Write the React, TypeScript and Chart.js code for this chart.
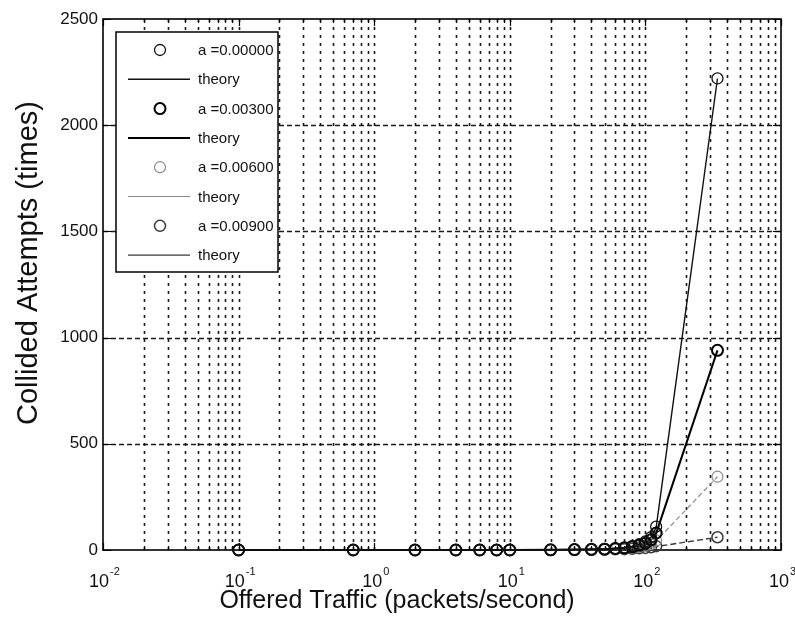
import React, { useEffect, useRef } from "react";
import { Chart, registerables } from "chart.js";

Chart.register(...registerables);

// ---- data ----
const offeredTraffic = [0.1, 0.7, 2, 4, 6, 8, 10, 20, 30, 40, 50, 60, 70, 80, 90, 100, 110, 120, 340];

const simA0 = [0, 0, 0, 0, 0, 0, 0, 1, 2, 3, 5, 8, 12, 18, 27, 40, 60, 110, 2220];
const simA3 = [0, 0, 0, 0, 0, 0, 0, 1, 2, 3, 4, 7, 10, 15, 22, 32, 48, 80, 940];
const simA6 = [0, 0, 0, 0, 0, 0, 0, 0, 1, 2, 3, 5, 7, 10, 14, 20, 28, 45, 345];
const simA9 = [0, 0, 0, 0, 0, 0, 0, 0, 1, 1, 2, 3, 4, 6, 8, 10, 13, 18, 60];

const theoryA0 = [0, 0, 0, 0, 0, 0, 0, 1, 2, 3, 5, 8, 12, 18, 27, 40, 60, 105, 2220];
const theoryA3 = [0, 0, 0, 0, 0, 0, 0, 1, 2, 3, 4, 7, 10, 15, 22, 32, 48, 78, 940];
const theoryA6 = [0, 0, 0, 0, 0, 0, 0, 0, 1, 2, 3, 5, 7, 10, 14, 20, 28, 42, 345];
const theoryA9 = [0, 0, 0, 0, 0, 0, 0, 0, 1, 1, 2, 3, 4, 6, 8, 10, 13, 16, 60];

const seriesLabels = ["a =0.00000", "a =0.00300", "a =0.00600", "a =0.00900"];
const theoryLabel = "theory";

const yTickValues = [0, 500, 1000, 1500, 2000, 2500];
const xDecades = [0.01, 0.1, 1, 10, 100, 1000];
const xExponents = ["-2", "-1", "0", "1", "2", "3"];

const xTitle = "Offered Traffic (packets/second)";
const yTitle = "Collided Attempts (times)";

// ---- styles ----
const seriesColors = ["#111111", "#000000", "#8a8a8a", "#3a3a3a"];
const markerWidths = [1.3, 2, 1.2, 1.5];
const theoryWidths = [1.4, 2, 1.2, 1.4];
const theoryDashes: number[][] = [[], [], [5, 3], [6, 3]];
const FONT = "'Liberation Sans', Arial, sans-serif";

const toPoints = (ys: number[]) => offeredTraffic.map((x, i) => ({ x, y: ys[i] }));

const gridPlugin = {
  id: "matlabGrid",
  beforeDatasetsDraw(chart: any) {
    const { ctx, chartArea, scales } = chart;
    const xs = scales.x;
    const ys = scales.y;
    const { left, right, top, bottom } = chartArea;
    ctx.save();
    // vertical dotted grid
    ctx.strokeStyle = "#1a1a1a";
    ctx.lineWidth = 1.6;
    ctx.setLineDash([3, 5]);
    for (let e = -2; e < 3; e++) {
      for (let m = 1; m <= 9; m++) {
        const v = m * Math.pow(10, e);
        if (v <= 0.01 + 1e-9) continue;
        const px = Math.round(xs.getPixelForValue(v)) + 0.5;
        ctx.beginPath();
        ctx.moveTo(px, bottom);
        ctx.lineTo(px, top);
        ctx.stroke();
      }
    }
    // horizontal dashed grid
    ctx.setLineDash([5, 3]);
    for (const v of yTickValues) {
      if (v === 0 || v === 2500) continue;
      const py = Math.round(ys.getPixelForValue(v)) + 0.5;
      ctx.beginPath();
      ctx.moveTo(left, py);
      ctx.lineTo(right, py);
      ctx.stroke();
    }
    ctx.setLineDash([]);
    // inward ticks
    ctx.strokeStyle = "#000";
    ctx.lineWidth = 1.2;
    for (let e = -2; e <= 3; e++) {
      for (let m = 1; m <= 9; m++) {
        const v = m * Math.pow(10, e);
        if (v > 1000 + 1e-9) continue;
        const px = Math.round(xs.getPixelForValue(v)) + 0.5;
        const len = m === 1 ? 7 : 4;
        ctx.beginPath();
        ctx.moveTo(px, bottom);
        ctx.lineTo(px, bottom - len);
        ctx.moveTo(px, top);
        ctx.lineTo(px, top + len);
        ctx.stroke();
      }
    }
    for (const v of yTickValues) {
      const py = Math.round(ys.getPixelForValue(v)) + 0.5;
      ctx.beginPath();
      ctx.moveTo(left, py);
      ctx.lineTo(left + 8, py);
      ctx.moveTo(right, py);
      ctx.lineTo(right - 8, py);
      ctx.stroke();
    }
    // frame
    ctx.lineWidth = 1.6;
    ctx.strokeRect(left, top, right - left, bottom - top);
    ctx.restore();
  },
};

const labelPlugin = {
  id: "axisTexts",
  afterDraw(chart: any) {
    const { ctx, chartArea, scales } = chart;
    const xs = scales.x;
    ctx.save();
    ctx.fillStyle = "#111";
    ctx.textBaseline = "alphabetic";
    ctx.textAlign = "left";
    xDecades.forEach((d, i) => {
      const px = xs.getPixelForValue(d);
      ctx.font = `18px ${FONT}`;
      const w1 = ctx.measureText("10").width;
      ctx.font = `11px ${FONT}`;
      const w2 = ctx.measureText(xExponents[i]).width;
      const x0 = px - (w1 + w2) / 2 + 1;
      ctx.font = `18px ${FONT}`;
      ctx.fillText("10", x0, chartArea.bottom + 37);
      ctx.font = `11px ${FONT}`;
      ctx.fillText(xExponents[i], x0 + w1 + 1, chartArea.bottom + 25);
    });
    // axis titles
    ctx.textAlign = "center";
    ctx.textBaseline = "middle";
    ctx.font = `25px ${FONT}`;
    ctx.fillText(xTitle, 397, 601);
    ctx.translate(29, 263);
    ctx.rotate(-Math.PI / 2);
    ctx.font = `29px ${FONT}`;
    ctx.fillText(yTitle, 0, 0);
    ctx.restore();
  },
};

const legendPlugin = {
  id: "boxLegend",
  afterDatasetsDraw(chart: any) {
    const { ctx, chartArea } = chart;
    const bx = chartArea.left + 13;
    const by = chartArea.top + 13;
    const bw = 162;
    const bh = 240;
    ctx.save();
    ctx.fillStyle = "#fff";
    ctx.fillRect(bx, by, bw, bh);
    ctx.strokeStyle = "#000";
    ctx.lineWidth = 1.5;
    ctx.strokeRect(bx, by, bw, bh);
    ctx.font = `15px ${FONT}`;
    ctx.textBaseline = "middle";
    ctx.textAlign = "left";
    const rowH = 29.3;
    chart.data.datasets.forEach((ds: any, i: number) => {
      const cy = by + 18 + i * rowH;
      const s = Math.floor(i / 2);
      if (i % 2 === 0) {
        ctx.strokeStyle = seriesColors[s];
        ctx.lineWidth = markerWidths[s];
        ctx.beginPath();
        ctx.arc(bx + 44, cy, 5.5, 0, Math.PI * 2);
        ctx.stroke();
      } else {
        ctx.strokeStyle = seriesColors[s];
        ctx.lineWidth = theoryWidths[s];
        ctx.beginPath();
        ctx.moveTo(bx + 12, cy);
        ctx.lineTo(bx + 74, cy);
        ctx.stroke();
      }
      ctx.fillStyle = "#111";
      ctx.fillText(ds.label, bx + 82, cy + 1);
    });
    ctx.restore();
  },
};

export default function App() {
  const canvasRef = useRef<HTMLCanvasElement | null>(null);

  useEffect(() => {
    document.body.style.margin = "0";
    const canvas = canvasRef.current;
    if (!canvas) return;
    const sims = [simA0, simA3, simA6, simA9];
    const theories = [theoryA0, theoryA3, theoryA6, theoryA9];
    const datasets: any[] = [];
    for (let s = 0; s < 4; s++) {
      datasets.push({
        type: "scatter",
        label: seriesLabels[s],
        data: toPoints(sims[s]),
        showLine: false,
        pointStyle: "circle",
        pointRadius: 5.5,
        pointBorderWidth: markerWidths[s],
        borderColor: seriesColors[s],
        backgroundColor: "rgba(0,0,0,0)",
        clip: false,
        order: 1,
      });
      datasets.push({
        type: "line",
        label: theoryLabel,
        data: toPoints(theories[s]),
        showLine: true,
        pointRadius: 0,
        borderColor: seriesColors[s],
        borderWidth: theoryWidths[s],
        borderDash: theoryDashes[s],
        fill: false,
        tension: 0,
        clip: 3,
        order: 2,
      });
    }

    const chart = new Chart(canvas, {
      type: "scatter",
      data: { datasets },
      options: {
        animation: false,
        responsive: true,
        maintainAspectRatio: false,
        layout: { padding: { left: 10, right: 14, top: 19, bottom: 0 } },
        plugins: {
          legend: { display: false },
          tooltip: { enabled: false },
        },
        scales: {
          x: {
            type: "logarithmic",
            min: 0.01,
            max: 1000,
            grid: { display: false, drawTicks: false },
            border: { display: false },
            ticks: { display: false },
            title: { display: false, text: xTitle },
            afterFit: (scale: any) => {
              scale.height = 73;
            },
          },
          y: {
            min: 0,
            max: 2500,
            grid: { display: false, drawTicks: false },
            border: { display: false },
            ticks: {
              stepSize: 500,
              color: "#111",
              padding: 5,
              font: { family: FONT, size: 17 },
              callback: (v: any) => String(v),
            },
            title: { display: false, text: yTitle },
            afterFit: (scale: any) => {
              scale.width = 93;
            },
          },
        },
      },
      plugins: [gridPlugin, legendPlugin, labelPlugin],
    });
    return () => chart.destroy();
  }, []);

  return (
    <div style={{ width: 795, height: 623, position: "relative" }}>
      <canvas ref={canvasRef} />
    </div>
  );
}
